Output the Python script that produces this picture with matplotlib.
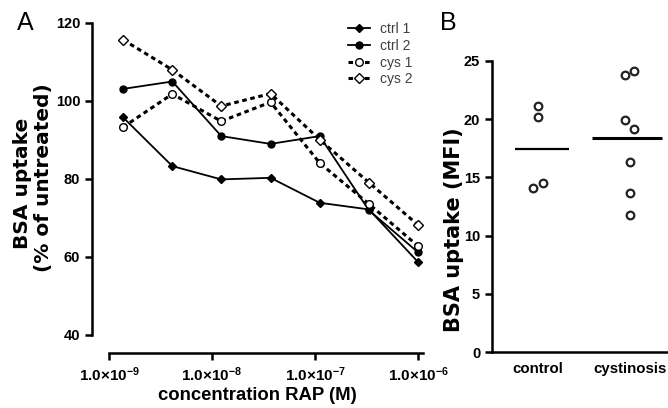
import matplotlib
matplotlib.use("Agg")
import matplotlib.pyplot as plt
import numpy as np

plt.rcParams["font.family"] = ["Liberation Sans", "DejaVu Sans"]
plt.rcParams["mathtext.fontset"] = "custom"
plt.rcParams["mathtext.rm"] = "Liberation Sans:bold"
plt.rcParams["mathtext.bf"] = "Liberation Sans:bold"
plt.rcParams["mathtext.it"] = "Liberation Sans:bold"

# Panel A: RAP dilution series (M) and BSA uptake (% of untreated)
conc = [1.37e-9, 4.12e-9, 1.23e-8, 3.70e-8, 1.11e-7, 3.33e-7, 1.0e-6]
ctrl1 = [95.8, 83.3, 79.9, 80.3, 73.9, 72.2, 58.7]
ctrl2 = [103.1, 105.0, 91.0, 89.0, 91.0, 72.0, 61.2]
cys1 = [93.3, 101.8, 94.8, 99.7, 84.1, 73.6, 62.8]
cys2 = [115.7, 108.0, 98.7, 101.9, 90.1, 79.1, 68.2]
xticks_a = [1e-9, 1e-8, 1e-7, 1e-6]
xticklabels_a = [r"$\mathbf{1.0{\times}10^{-9}}$", r"$\mathbf{1.0{\times}10^{-8}}$",
                 r"$\mathbf{1.0{\times}10^{-7}}$", r"$\mathbf{1.0{\times}10^{-6}}$"]

# Panel B: BSA uptake (MFI) per group
groups = ["control", "cystinosis"]
control_mfi = [21.1, 20.2, 14.1, 14.5]
cystinosis_mfi = [23.8, 24.1, 19.9, 19.2, 16.3, 13.7, 11.8]
control_jitter = [0.0, 0.0, -0.055, 0.055]
cystinosis_jitter = [-0.055, 0.045, -0.055, 0.045, 0.0, 0.0, 0.0]

W, H = 668, 408
fig = plt.figure(figsize=(W / 100, H / 100), dpi=100)


def axes_px(x0, y0, x1, y1):
    return fig.add_axes([x0 / W, 1 - y1 / H, (x1 - x0) / W, (y1 - y0) / H])


# ---- panel A ----
ax = axes_px(92, 23, 423, 353)
lw = 1.3
ax.plot(conc, ctrl1, "-", color="black", lw=lw, marker="D", ms=4,
        mfc="black", mec="black", label="ctrl 1")
ax.plot(conc, ctrl2, "-", color="black", lw=lw, marker="o", ms=5,
        mfc="black", mec="black", label="ctrl 2")
ax.plot(conc, cys1, color="black", lw=2.2, dashes=(1.5, 1.2), marker="o", ms=5.5,
        mfc="white", mec="black", mew=1.0, label="cys 1")
ax.plot(conc, cys2, color="black", lw=2.2, dashes=(1.5, 1.2), marker="D", ms=5,
        mfc="white", mec="black", mew=1.0, label="cys 2")
ax.set_xscale("log")
ax.set_xlim(10 ** -9.165, 10 ** -5.952)
ax.set_ylim(40 - 18 / 3.9, 120)
ax.spines["top"].set_visible(False)
ax.spines["right"].set_visible(False)
ax.spines["left"].set_bounds(40, 120)
ax.spines["bottom"].set_bounds(1e-9, 10 ** -5.952)
for s in ("left", "bottom"):
    ax.spines[s].set_linewidth(1.8)
ax.set_yticks([40, 60, 80, 100, 120])
ax.set_xticks(xticks_a)
ax.set_xticklabels(xticklabels_a)
ax.minorticks_off()
ax.tick_params(axis="both", width=1.8, length=5, labelsize=10.5)
ax.tick_params(axis="x", labelsize=11, pad=4)
for t in ax.get_yticklabels():
    t.set_fontweight("bold")
fig.text(257 / W, 1 - 395 / H, "concentration RAP (M)", ha="center",
         va="center", fontsize=13.3, fontweight="bold")
fig.text(22 / W, 1 - 183 / H, "BSA uptake", rotation=90, ha="center",
         va="center", fontsize=14.5, fontweight="bold", family="DejaVu Sans")
fig.text(44 / W, 1 - 178 / H, "(% of untreated)", rotation=90, ha="center",
         va="center", fontsize=14.5, fontweight="bold", family="DejaVu Sans")
leg = ax.legend(loc="upper left", bbox_to_anchor=(250 / 331, 1.02), frameon=False,
                fontsize=10, handlelength=1.6, handletextpad=0.7,
                labelspacing=0.2, borderaxespad=0)
for t in leg.get_texts():
    t.set_color("#404040")
fig.text(25 / W, 1 - 23 / H, "A", ha="center", va="center", fontsize=18)

# ---- panel B ----
bx = axes_px(492, 61, 668, 352)
px_per_unit = 92
bx.set_xlim(-46 / px_per_unit, 130 / px_per_unit)
bx.set_ylim(0, 25)
bx.plot(np.array(control_jitter), control_mfi, "o", ms=5.5, mfc="white",
        mec="#222222", mew=1.6, clip_on=False)
bx.plot(1 + np.array(cystinosis_jitter), cystinosis_mfi, "o", ms=5.5,
        mfc="white", mec="#222222", mew=1.6, clip_on=False)
bx.hlines(np.mean(control_mfi), -0.25, 0.34, color="black", lw=1.6)
bx.hlines(np.mean(cystinosis_mfi), 1 - 0.41, 1 + 0.35, color="black", lw=2.2)
bx.spines["top"].set_visible(False)
bx.spines["right"].set_visible(False)
for s in ("left", "bottom"):
    bx.spines[s].set_linewidth(1.8)
bx.set_yticks([0, 5, 10, 15, 20, 25])
bx.set_xticks([0, 1])
bx.set_xticklabels(groups)
bx.tick_params(axis="y", width=1.8, length=5, labelsize=10.5)
bx.tick_params(axis="x", length=0, labelsize=10.8, pad=7)
for t in bx.get_yticklabels() + bx.get_xticklabels():
    t.set_fontweight("bold")
fig.text(454 / W, 1 - 230 / H, "BSA uptake (MFI)", rotation=90, ha="center",
         va="center", fontsize=15, fontweight="bold", family="DejaVu Sans")
fig.text(448 / W, 1 - 23 / H, "B", ha="center", va="center", fontsize=18)

fig.savefig("out.png", dpi=100)
